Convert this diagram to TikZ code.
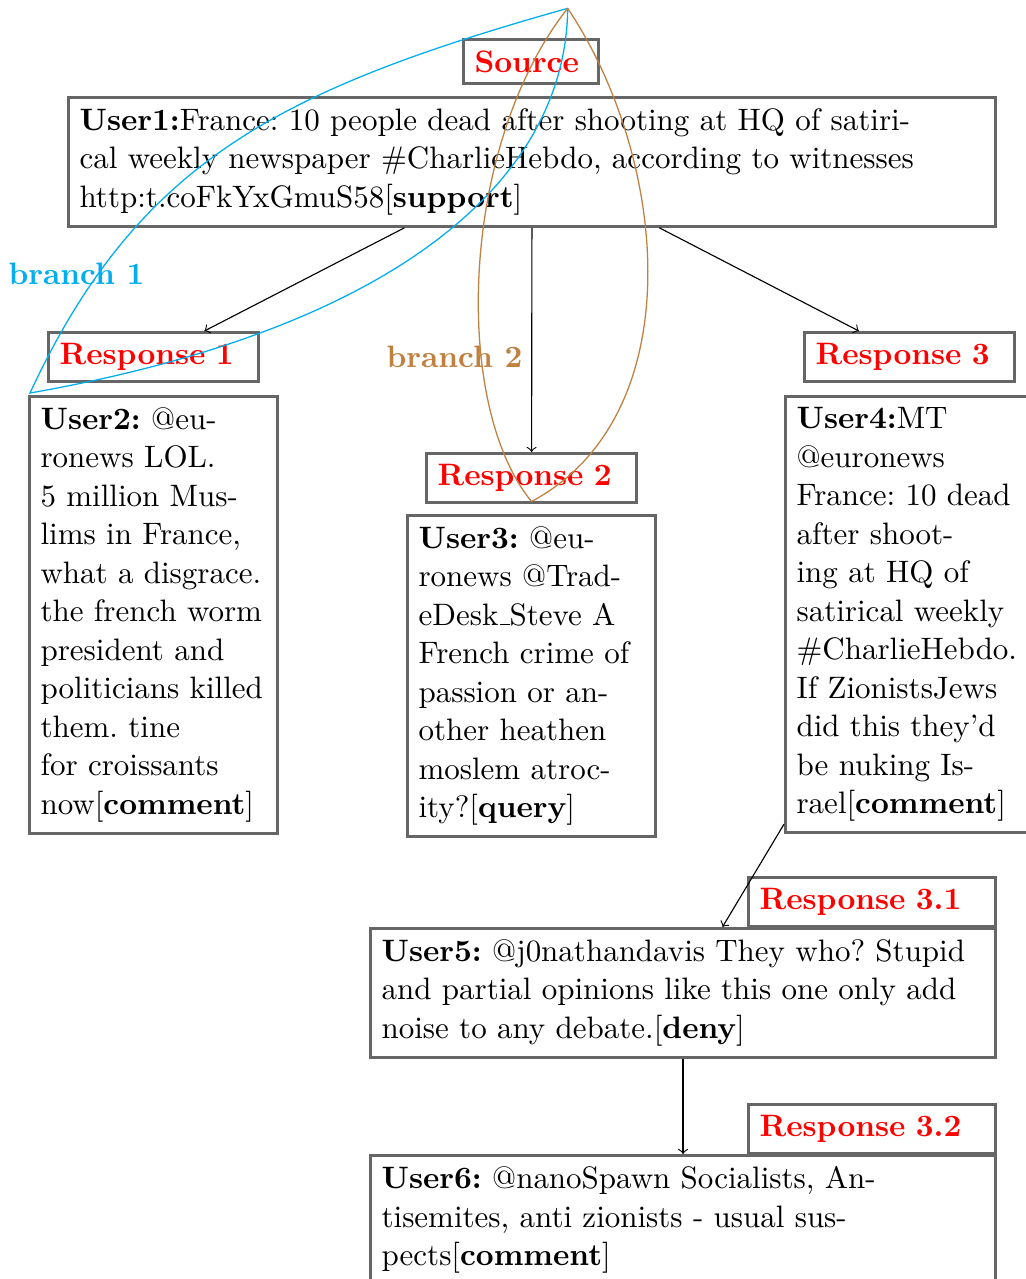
\documentclass[tikz,11pt,border=0pt]{standalone}
\usepackage{xcolor}
\definecolor{branchone}{RGB}{0,174,239}
\definecolor{branchtwo}{RGB}{191,128,64}
\definecolor{boxgray}{RGB}{102,102,102}
\hyphenpenalty=10000
\frenchspacing
% low rule underscore, as in the classic text fonts
\newcommand{\lowbar}{\leavevmode\kern.06em\vbox{\hrule width.3em}}
\tikzset{
  post/.style={draw=boxgray, line width=1.1pt, align=left, anchor=north west,
    inner sep=3.9pt, text=black},
  tag/.style={post, font=\bfseries, text=red},
  link/.style={->, black, line width=0.4pt},
  branchline/.style={line width=0.45pt},
  branchlabel/.style={font=\bfseries, inner sep=0pt},
}
\begin{document}
\begin{tikzpicture}[x=0.3533pt, y=-0.3533pt]
\useasboundingbox (0,0) rectangle (1026,1279);

% source tweet
\node[tag, text width=39.9pt] (src) at (462,38) {Source};
\node[post, text width=319.71pt] (u1) at (67,96)
  {\textbf{User1:}France: 10 people dead after shooting at HQ of satiri-\\
   cal weekly newspaper \#CharlieHebdo, according to witnesses\\
   http:t.coFkYxGmuS58[\textbf{support}]};

% first-level replies
\node[tag, text width=66.39pt] (r1) at (47,331) {Response 1};
\node[post, text width=79.82pt] (u2) at (28,395)
  {\textbf{User2:} @eu-\\ronews LOL.\\5 million Mus-\\lims in France,\\what~a~disgrace.\\
   the~french~worm\\president and\\politicians~killed\\them. tine\\for~croissants\\
   now[\textbf{comment}]};

\node[tag, text width=66.39pt] (r2) at (425,452) {Response 2};
\node[post, text width=79.82pt] (u3) at (406,514)
  {\textbf{User3:} @eu-\\ronews~@Trad-\\eDesk\lowbar Steve~A\\French~crime~of\\passion~or~an-\\
   other~heathen\\moslem~atroc-\\ity?[\textbf{query}]};

\node[tag, text width=66.39pt] (r3) at (803,331) {Response 3};
\node[post, text width=79.82pt] (u4) at (784,395)
  {\textbf{User4:}MT\\@euronews\\France:~10~dead\\after shoot-\\ing~at~HQ~of\\
   satirical~weekly\\\#CharlieHebdo.\\If~ZionistsJews\\did~this~they'd\\be~nuking~Is-\\
   rael[\textbf{comment}]};

% nested replies
\node[tag, text width=79.47pt] (r31) at (747,876) {Response 3.1};
\node[post, text width=213.01pt] (u5) at (369,927)
  {\textbf{User5:} @j0nathandavis They~who?~Stupid\\
   and partial opinions like this one only~add\\
   noise to any debate.[\textbf{deny}]};

\node[tag, text width=79.47pt] (r32) at (747,1103) {Response 3.2};
\node[post, text width=213.01pt] (u6) at (369,1154)
  {\textbf{User6:} @nanoSpawn Socialists, An-\\
   tisemites, anti zionists - usual sus-\\
   pects[\textbf{comment}]};

% reply edges
\draw[link] (u1) -- (r1);
\draw[link] (u1) -- (r2);
\draw[link] (u1) -- (r3);
\draw[link] (u4) -- (u5);
\draw[link] (u5) -- (u6);

% branch outlines
\coordinate (apex) at (567.7,8.3);
\coordinate (b1end) at ([shift={(2,-2)}]u2.north west);
\coordinate (b2end) at ([shift={(0,-3)}]r2.south);
\draw[branchline, branchone] (apex) .. controls (277,90.1) and (137.1,162.8) .. (b1end)
  .. controls (400,328) and (566,178) .. (apex);
\draw[branchline, branchtwo] (apex) .. controls (459.2,145.5) and (452.3,405.7) .. (b2end)
  .. controls (691,416.3) and (670,161.6) .. (apex);

\node[branchlabel, text=branchone] (b1) at (76.5,274) {branch 1};
\node[branchlabel, text=branchtwo] (b2) at (454.5,357) {branch 2};
\end{tikzpicture}
\end{document}
